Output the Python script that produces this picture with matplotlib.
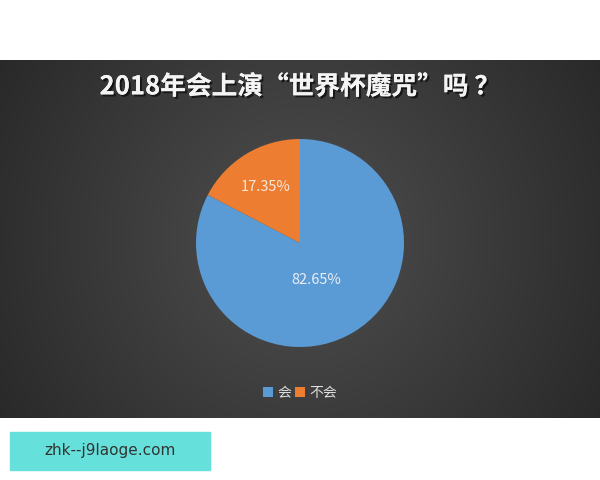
import matplotlib.pyplot as plt
import matplotlib.patheffects as pe
import numpy as np

plt.rcParams['font.family'] = ['Noto Sans CJK SC', 'DejaVu Sans']

labels = ['会', '不会']
shares = [82.65, 17.35]
colors = ['#5B9BD5', '#ED7D31']
title = '2018年会上演“世界杯魔咒”吗 ？'

fig = plt.figure(figsize=(6, 4.8), dpi=100)
fig.patch.set_facecolor('white')

# dark panel with radial gradient
bg = fig.add_axes([0, 1 - 418 / 480, 1, (418 - 60) / 480])
yy, xx = np.mgrid[-1:1:200j, -1:1:300j]
r = np.sqrt((xx * 0.85) ** 2 + (yy * 0.5) ** 2)
g = np.clip(0.31 - 0.15 * r, 0, 1)
bg.imshow(np.dstack([g, g, g]), aspect='auto', extent=[0, 1, 0, 1])
bg.set_axis_off()

bg.text(0.5, 0.925, title, ha='center', va='center', color='#f4f4f4',
        fontsize=18.5, fontweight='bold',
        path_effects=[pe.withSimplePatchShadow(offset=(1.5, -1.5), shadow_rgbFace='black', alpha=0.6),
                      pe.Normal()])

# pie
ax = fig.add_axes([(300 - 104) / 600, 1 - 347 / 480, 208 / 600, 208 / 480])
wedges, texts = ax.pie(shares, colors=colors, startangle=90, counterclock=False,
                       wedgeprops=dict(linewidth=0))
ax.set_xlim(-1, 1)
ax.set_ylim(-1, 1)
ax.set_aspect('equal')
ax.text(0.16, -0.36, f'{shares[0]:.2f}%', ha='center', va='center',
        color='#e8eef6', fontsize=10.5)
ax.text(-0.33, 0.54, f'{shares[1]:.2f}%', ha='center', va='center',
        color='#f8e8dc', fontsize=10.5)

leg = fig.legend(wedges, labels, loc='center', bbox_to_anchor=(0.5, 1 - 393 / 480),
                 ncol=2, frameon=False, fontsize=10, handlelength=0.7,
                 handleheight=0.7, handletextpad=0.3, columnspacing=0.3)
for t in leg.get_texts():
    t.set_color('#dddddd')

# watermark box
fig.patches.append(plt.Rectangle((10 / 600, 1 - 470 / 480), 200 / 600, 38 / 480,
                                 transform=fig.transFigure, color='#66E0DA',
                                 zorder=0))
fig.text(110 / 600, 1 - 451 / 480, 'zhk--j9laoge.com', ha='center', va='center',
         color='#333333', fontsize=11, family='DejaVu Sans')

fig.savefig('out.png', dpi=100)
